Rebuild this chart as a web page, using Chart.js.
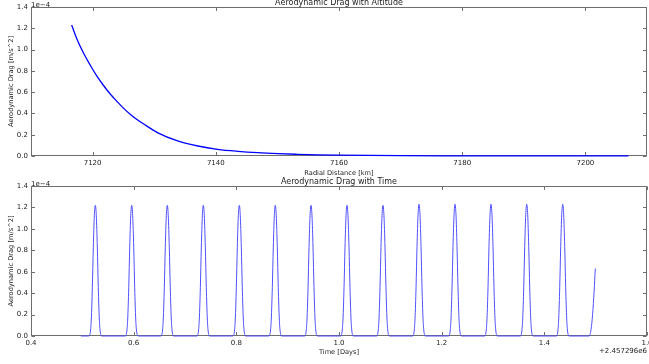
<!DOCTYPE html>
<html>
<head>
<meta charset="utf-8">
<title>Aerodynamic Drag</title>
<script src="https://cdn.jsdelivr.net/npm/chart.js@4.4.1/dist/chart.umd.min.js"></script>
<style>
  html, body { margin: 0; padding: 0; background: #fff; }
  body { width: 649px; height: 364px; position: relative; overflow: hidden; }
  canvas { position: absolute; left: 0; }
  #altChart { top: 0; }
  #timeChart { top: 177px; }
</style>
</head>
<body>
<canvas id="altChart" width="649" height="179"></canvas>
<canvas id="timeChart" width="649" height="187"></canvas>
<script>
// drag against radial distance, values in units of 1e-4 m/s^2
const radialKm = [7116.6, 7117.45, 7118.5, 7119.6, 7120.7, 7121.8, 7122.9, 7124.0, 7125.0, 7126.1,
                  7127.2, 7128.3, 7130.6, 7133.8, 7137.1, 7140.3, 7143.6, 7146.8, 7150.1, 7153.3,
                  7156.6, 7159.8, 7165, 7170, 7180, 7190, 7200, 7207];
const dragByAltitude = [1.231, 1.10, 0.97, 0.855, 0.75, 0.66, 0.58, 0.51, 0.45, 0.393,
                        0.343, 0.30, 0.218, 0.142, 0.094, 0.063, 0.044, 0.031, 0.022, 0.016,
                        0.011, 0.008, 0.005, 0.003, 0.0015, 0.0008, 0.0004, 0.0003];
const altTicks = [7120, 7140, 7160, 7180, 7200];

// drag against time (days, offset +2.457296e6): one peak per perigee pass
const peakDays = [0.5253, 0.5962, 0.6655, 0.7357, 0.8058, 0.8759, 0.9455,
                  1.0156, 1.0857, 1.1559, 1.2260, 1.2961, 1.3657, 1.4358];
const peakHeights = [1.22, 1.22, 1.22, 1.22, 1.22, 1.22, 1.22,
                     1.22, 1.22, 1.23, 1.23, 1.23, 1.23, 1.23];
// shape of a single pass
const passOffset = [-0.0127, -0.0097, -0.0078, -0.0058, -0.0039, -0.0019, 0,
                    0.0019, 0.0039, 0.0058, 0.0078, 0.0097, 0.0127];
const passShape = [0, 0.03, 0.13, 0.37, 0.68, 0.92, 1, 0.92, 0.68, 0.37, 0.13, 0.03, 0];
const timeStart = 0.4974;
const tailDays = [1.487, 1.491, 1.494, 1.497, 1.4993];
const tailDrag = [0, 0.06, 0.2, 0.42, 0.63];
const timeTicks = [0.4, 0.6, 0.8, 1.0, 1.2, 1.4, 1.6];

const dragTicks = [0, 0.2, 0.4, 0.6, 0.8, 1.0, 1.2, 1.4];

const altPoints = radialKm.map((x, i) => ({ x: x, y: dragByAltitude[i] }));

const timePoints = [{ x: timeStart, y: 0 }];
peakDays.forEach((t, i) => {
    passOffset.forEach((dt, j) => {
        timePoints.push({ x: t + dt, y: peakHeights[i] * passShape[j] });
    });
});
tailDays.forEach((t, i) => timePoints.push({ x: t, y: tailDrag[i] }));

const FONT = '"DejaVu Sans", sans-serif';
const TEXT = '#1c1c1c';
const EDGE = '#6e6e6e';

// box round the axes with matplotlib style inward ticks
const frame = {
    id: 'frame',
    beforeDatasetsDraw(chart) {
        const { ctx, chartArea: a, scales } = chart;
        const line = (x1, y1, x2, y2) => {
            ctx.beginPath();
            ctx.moveTo(x1, y1);
            ctx.lineTo(x2, y2);
            ctx.stroke();
        };
        ctx.save();
        ctx.strokeStyle = EDGE;
        ctx.lineWidth = 1;
        const l = Math.round(a.left) + 0.5, r = Math.round(a.right) - 0.5;
        const t = Math.round(a.top) + 0.5, b = Math.round(a.bottom) - 0.5;
        ctx.strokeRect(l, t, r - l, b - t);
        scales.x.ticks.forEach(tk => {
            const x = Math.round(scales.x.getPixelForValue(tk.value)) + 0.5;
            line(x, b, x, b - 3.5);
            line(x, t, x, t + 3.5);
        });
        scales.y.ticks.forEach(tk => {
            const y = Math.round(scales.y.getPixelForValue(tk.value)) + 0.5;
            line(l, y, l + 3.5, y);
            line(r, y, r - 3.5, y);
        });
        ctx.restore();
    }
};

// title, exponent and offset texts
const notes = {
    id: 'notes',
    afterDraw(chart, args, opts) {
        const { ctx, chartArea: a } = chart;
        ctx.save();
        ctx.fillStyle = TEXT;
        ctx.font = '8px ' + FONT;
        ctx.textAlign = 'center';
        ctx.textBaseline = 'middle';
        ctx.fillText(opts.title, (a.left + a.right) / 2, opts.titleY);
        ctx.font = '7px ' + FONT;
        ctx.textAlign = 'left';
        ctx.textBaseline = 'alphabetic';
        ctx.fillText('1e\u22124', a.left, a.top - 0.5);
        if (opts.offsetText) {
            ctx.textAlign = 'right';
            ctx.textBaseline = 'middle';
            ctx.fillText(opts.offsetText, a.right, opts.offsetY);
        }
        ctx.restore();
    }
};

function makeChart(id, points, color, width, xOpts, padTop, xHeight, noteOpts) {
    return new Chart(document.getElementById(id), {
        type: 'line',
        data: {
            datasets: [{
                data: points,
                borderColor: color,
                borderWidth: width,
                pointRadius: 0,
                cubicInterpolationMode: 'monotone',
                clip: false
            }]
        },
        options: {
            responsive: false,
            animation: false,
            events: [],
            layout: { padding: { left: 0, right: 2, top: padTop, bottom: 0 } },
            plugins: {
                legend: { display: false },
                tooltip: { enabled: false },
                notes: noteOpts
            },
            scales: {
                x: {
                    type: 'linear',
                    min: xOpts.min,
                    max: xOpts.max,
                    grid: { display: false, drawTicks: false },
                    border: { display: false },
                    afterBuildTicks: s => { s.ticks = xOpts.ticks.map(v => ({ value: v })); },
                    afterFit: s => { s.height = xHeight; s.paddingLeft = 0; s.paddingRight = 0; },
                    ticks: {
                        padding: 3,
                        maxRotation: 0,
                        autoSkip: false,
                        color: TEXT,
                        font: { family: FONT, size: 7 },
                        callback: xOpts.format
                    },
                    title: {
                        display: true,
                        text: xOpts.title,
                        color: TEXT,
                        font: { family: FONT, size: 6.65 },
                        padding: { top: 0, bottom: xOpts.titlePad }
                    }
                },
                y: {
                    min: 0,
                    max: 1.4,
                    grid: { display: false, drawTicks: false },
                    border: { display: false },
                    afterBuildTicks: s => { s.ticks = dragTicks.map(v => ({ value: v })); },
                    afterFit: s => { s.width = 31; s.paddingTop = 0; s.paddingBottom = 0; },
                    ticks: {
                        padding: 3,
                        autoSkip: false,
                        color: TEXT,
                        font: { family: FONT, size: 7 },
                        callback: v => v.toFixed(1)
                    },
                    title: {
                        display: true,
                        text: 'Aerodynamic Drag [m/s^2]',
                        color: TEXT,
                        font: { family: FONT, size: 6.65 },
                        padding: { top: 7.5, bottom: 0 }
                    }
                }
            }
        },
        plugins: [frame, notes]
    });
}

makeChart('altChart', altPoints, '#0000ff', 1.3, {
    min: 7110, max: 7210, ticks: altTicks,
    format: v => String(v), title: 'Radial Distance [km]', titlePad: 2
}, 7, 23, { title: 'Aerodynamic Drag with Altitude', titleY: 2.5 });

makeChart('timeChart', timePoints, '#5050ff', 1, {
    min: 0.4, max: 1.6, ticks: timeTicks,
    format: v => v.toFixed(1), title: 'Time [Days]', titlePad: 8
}, 9, 28, { title: 'Aerodynamic Drag with Time', titleY: 4.7, offsetText: '+2.457296e6', offsetY: 174 });
</script>
</body>
</html>
